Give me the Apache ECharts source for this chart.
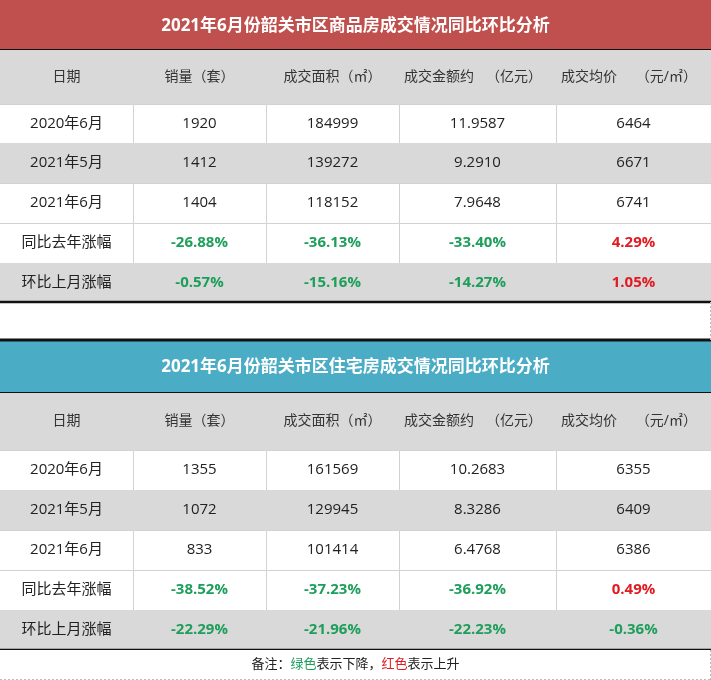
<!DOCTYPE html>
<html>
<head>
<meta charset="utf-8">
<script src="https://cdn.jsdelivr.net/npm/echarts@6/dist/echarts.min.js"></script>
<style>
  html, body { margin: 0; padding: 0; background: #fff; }
  #chart { width: 711px; height: 680px; }
</style>
</head>
<body>
<div id="chart"></div>
<script>
// 标题 / 表头
const titles = ['2021年6月份韶关市区商品房成交情况同比环比分析', '2021年6月份韶关市区住宅房成交情况同比环比分析'];
const headMain = ['日期', '销量（套）', '成交面积（㎡）', '成交金额约', '成交均价'];
const headUnit = ['', '', '', '（亿元）', '（元/㎡）'];
const periods = ['2020年6月', '2021年5月', '2021年6月'];
const changeNames = ['同比去年涨幅', '环比上月涨幅'];

// 商品房
const spSales = [1920, 1412, 1404];
const spArea = [184999, 139272, 118152];
const spAmount = [11.9587, 9.2910, 7.9648];
const spPrice = [6464, 6671, 6741];
const spYoY = [-26.88, -36.13, -33.40, 4.29];
const spMoM = [-0.57, -15.16, -14.27, 1.05];

// 住宅
const zzSales = [1355, 1072, 833];
const zzArea = [161569, 129945, 101414];
const zzAmount = [10.2683, 8.3286, 6.4768];
const zzPrice = [6355, 6409, 6386];
const zzYoY = [-38.52, -37.23, -36.92, 0.49];
const zzMoM = [-22.29, -21.96, -22.23, -0.36];

const footNote = ['备注：', '绿色', '表示下降，', '红色', '表示上升'];

// 布局（像素）
const colEdges = [0, 133, 266, 399, 556, 711];
const rowEdges = [[0, 50, 104, 143, 183, 223, 263, 302], [340, 393, 450, 490, 530, 570, 610, 650]];
const footEdges = [650, 680];
const bandColors = ['#C0504D', '#4BACC6'];
const grayRows = [1, 3, 6];
const GREEN = '#1E9E5B', RED = '#E01B22';
const FONT = "'Open Sans', 'Noto Sans CJK SC', sans-serif";

const tables = [
  { sales: spSales, area: spArea, amount: spAmount, price: spPrice, yoy: spYoY, mom: spMoM },
  { sales: zzSales, area: zzArea, amount: zzAmount, price: zzPrice, yoy: zzYoY, mom: zzMoM }
];

// 单元格
const cells = [];
tables.forEach((tb, t) => {
  cells.push({ t, r: 0, c0: 0, c1: 5, kind: 'title', text: titles[t] });
  headMain.forEach((h, c) => cells.push({ t, r: 1, c0: c, c1: c + 1, kind: 'head', text: h, unit: headUnit[c] }));
  periods.forEach((p, i) => {
    const vals = [p, String(tb.sales[i]), String(tb.area[i]), tb.amount[i].toFixed(4), String(tb.price[i])];
    vals.forEach((v, c) => cells.push({ t, r: 2 + i, c0: c, c1: c + 1, kind: 'data', text: v }));
  });
  [tb.yoy, tb.mom].forEach((arr, k) => {
    cells.push({ t, r: 5 + k, c0: 0, c1: 1, kind: 'data', text: changeNames[k] });
    arr.forEach((v, c) => cells.push({ t, r: 5 + k, c0: c + 1, c1: c + 2, kind: 'pct', text: v.toFixed(2) + '%', color: v < 0 ? GREEN : RED }));
  });
});
cells.push({ kind: 'foot', c0: 0, c1: 5 });

function renderCell(params, api) {
  const cell = cells[params.dataIndex];
  let top, bot;
  if (cell.kind === 'foot') { top = footEdges[0]; bot = footEdges[1]; }
  else { top = rowEdges[cell.t][cell.r]; bot = rowEdges[cell.t][cell.r + 1]; }
  const p0 = api.coord([colEdges[cell.c0], top]);
  const p1 = api.coord([colEdges[cell.c1], bot]);
  const x = p0[0], y = p0[1], w = p1[0] - p0[0], h = p1[1] - p0[1];
  const kids = [];

  if (cell.kind === 'foot') {
    kids.push({ type: 'rect', shape: { x, y, width: w, height: h }, style: { fill: '#fff' } });
    kids.push({ type: 'line', shape: { x1: x, y1: y + h - 0.5, x2: x + w, y2: y + h - 0.5 }, style: { stroke: '#BBBBBB', lineWidth: 1, lineDash: [2, 2] } });
    kids.push({ type: 'line', shape: { x1: x + w - 0.5, y1: y, x2: x + w - 0.5, y2: y + h }, style: { stroke: '#BBBBBB', lineWidth: 1, lineDash: [2, 2] } });
    kids.push({ type: 'line', shape: { x1: x + w - 0.5, y1: rowEdges[0][7], x2: x + w - 0.5, y2: rowEdges[1][0] }, style: { stroke: '#BBBBBB', lineWidth: 1, lineDash: [2, 2] } });
    kids.push({
      type: 'text',
      style: {
        x: x + w / 2, y: y + h / 2 - 1, align: 'center', verticalAlign: 'middle',
        text: '{k|' + footNote[0] + '}{g|' + footNote[1] + '}{k|' + footNote[2] + '}{r|' + footNote[3] + '}{k|' + footNote[4] + '}',
        fontSize: 13, fontFamily: FONT,
        rich: { k: { fill: '#222', fontSize: 13, fontFamily: FONT }, g: { fill: GREEN, fontSize: 13, fontFamily: FONT }, r: { fill: RED, fontSize: 13, fontFamily: FONT } }
      }
    });
    return { type: 'group', children: kids };
  }

  if (cell.kind === 'title') {
    kids.push({ type: 'rect', shape: { x, y, width: w, height: h }, style: { fill: bandColors[cell.t] } });
    kids.push({ type: 'line', shape: { x1: x, y1: y + h, x2: x + w, y2: y + h }, style: { stroke: '#111', lineWidth: 2 } });
    if (cell.t === 1) kids.push({ type: 'line', shape: { x1: x, y1: y, x2: x + w, y2: y }, style: { stroke: '#111', lineWidth: 3 } });
    kids.push({ type: 'text', style: { x: x + w / 2, y: y + h / 2 + 1, align: 'center', verticalAlign: 'middle', text: cell.text, fill: '#fff', fontSize: 17, fontWeight: 'bold', fontFamily: FONT } });
    return { type: 'group', children: kids };
  }

  const gray = grayRows.indexOf(cell.r) >= 0;
  // 首列不画左边框
  const lx = cell.c0 === 0 ? x - 1 : x + 0.5;
  kids.push({
    type: 'rect',
    shape: gray ? { x, y, width: w, height: h } : { x: lx, y: y + 0.5, width: w + (x + 0.5 - lx), height: h },
    style: gray ? { fill: '#D9D9D9' } : { fill: '#fff', stroke: '#D2D2D2', lineWidth: 1 }
  });

  if (cell.kind === 'head') {
    if (cell.unit) {
      kids.push({ type: 'text', style: { x: x + 5, y: y + h / 2, align: 'left', verticalAlign: 'middle', text: cell.text, fill: '#333', fontSize: 14, fontFamily: FONT } });
      kids.push({ type: 'text', style: { x: x + w - 14, y: y + h / 2, align: 'right', verticalAlign: 'middle', text: cell.unit, fill: '#333', fontSize: 14, fontFamily: FONT } });
    } else {
      kids.push({ type: 'text', style: { x: x + w / 2, y: y + h / 2, align: 'center', verticalAlign: 'middle', text: cell.text, fill: '#333', fontSize: 14, fontFamily: FONT } });
    }
  } else {
    const isPct = cell.kind === 'pct';
    kids.push({
      type: 'text',
      style: {
        x: x + w / 2, y: y + h / 2, align: 'center', verticalAlign: 'middle', text: cell.text,
        fill: isPct ? cell.color : '#222', fontSize: 15, fontWeight: isPct ? 'bold' : 'normal', fontFamily: FONT
      }
    });
  }

  if (cell.r === 6) {
    kids.push({ type: 'line', shape: { x1: x, y1: y + h, x2: x + w, y2: y + h }, style: { stroke: '#111', lineWidth: 2.5 } });
  }
  return { type: 'group', children: kids };
}

const chart = echarts.init(document.getElementById('chart'));
chart.setOption({
  backgroundColor: '#fff',
  animation: false,
  grid: { left: 0, right: 0, top: 0, bottom: 0 },
  xAxis: { type: 'value', min: 0, max: 711, show: false },
  yAxis: { type: 'value', min: 0, max: 680, inverse: true, show: false },
  series: [{
    type: 'custom',
    renderItem: renderCell,
    data: cells.map((c, i) => [i, 0]),
    silent: true
  }]
});
</script>
</body>
</html>
